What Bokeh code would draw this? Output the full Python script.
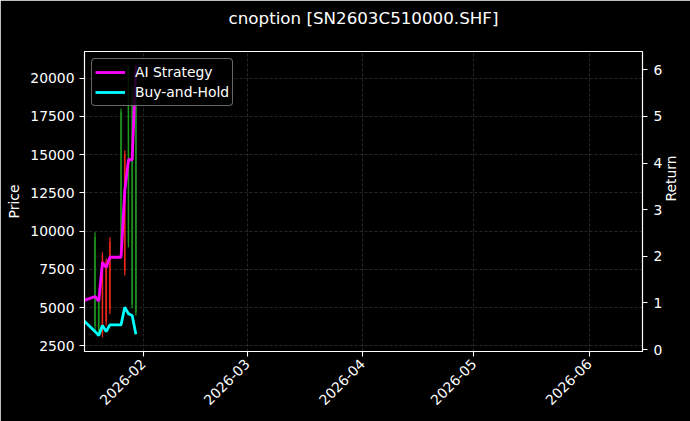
import math
import datetime as dt
import pandas as pd
from bokeh.plotting import figure
from bokeh.models import (Range1d, LinearAxis, DatetimeTickFormatter, MonthsTicker,
                          ColumnDataSource, Legend, LegendItem, FixedTicker)
from bokeh.embed import file_html
from bokeh.resources import INLINE

# ---- data ----
dates = ["2026-01-16", "2026-01-19", "2026-01-20", "2026-01-21", "2026-01-22", "2026-01-23",
         "2026-01-26", "2026-01-27", "2026-01-28", "2026-01-29", "2026-01-30"]
open_ = [10600, 3800, 3400, 8400, 8000, 9300, 8500, 15000, 9200, 5200, 4700]
high = [17300, 9930, 5590, 8620, 8210, 9600, 18020, 15270, 20850, 19500, 19000]
low = [10400, 3500, 3170, 3060, 3830, 4590, 8270, 7100, 8930, 4940, 4480]
close = [17100, 9600, 5400, 3300, 4100, 4900, 17800, 7400, 20500, 19000, 18700]
ai_strategy = [1.05, 1.14, 1.04, 1.87, 1.76, 1.98, 1.98, 3.40, 4.07, 4.07, 6.10]
buy_and_hold = [0.62, 0.39, 0.30, 0.52, 0.39, 0.53, 0.53, 0.91, 0.77, 0.73, 0.33]
price_ticks = [2500, 5000, 7500, 10000, 12500, 15000, 17500, 20000]
return_ticks = [0, 1, 2, 3, 4, 5, 6]
title_text = "cnoption [SN2603C510000.SHF]"

FONT = "DejaVu Sans"
GREEN = "#1f9a1f"
RED = "#f02a1a"

x = pd.to_datetime(dates)
colors = [GREEN if c >= o else RED for o, c in zip(open_, close)]
src = ColumnDataSource(dict(x=x, open=open_, high=high, low=low, close=close,
                            top=[max(o, c) for o, c in zip(open_, close)],
                            bottom=[min(o, c) for o, c in zip(open_, close)],
                            color=colors, ai=ai_strategy, bh=buy_and_hold))

X0, X1 = dt.datetime(2026, 1, 16, 4), dt.datetime(2026, 6, 15, 9)
Y0, Y1 = 2130, 21745
p = figure(width=690, height=421, x_axis_type="datetime",
           x_range=Range1d(X0, X1), y_range=Range1d(Y0, Y1),
           output_backend="svg", toolbar_location=None,
           background_fill_color="black", border_fill_color="black",
           min_border_left=84, min_border_right=48, min_border_top=51, min_border_bottom=70)

p.outline_line_color = "white"
p.outline_line_width = 1.1

p.extra_y_ranges = {"ret": Range1d(-0.04, 6.39)}
raxis = LinearAxis(y_range_name="ret", axis_label="Return")
p.add_layout(raxis, "right")

# candles
p.segment(x0="x", y0="low", x1="x", y1="high", color="color", line_width=1.2, source=src)
p.vbar(x="x", width=0.3 * 86400000, top="top", bottom="bottom", fill_color="color",
       line_color="color", line_width=0.3, source=src)

# return lines
l1 = p.line("x", "ai", source=src, y_range_name="ret", line_color="#ff00ff", line_width=2.8)
l2 = p.line("x", "bh", source=src, y_range_name="ret", line_color="#00ffff", line_width=2.8)

# axes styling
p.xaxis.ticker = MonthsTicker(months=list(range(1, 13)))
p.xaxis.formatter = DatetimeTickFormatter(months="%Y-%m", days="%Y-%m", years="%Y-%m")
p.xaxis.major_label_orientation = math.pi / 4
p.yaxis[0].ticker = FixedTicker(ticks=price_ticks)
p.yaxis[0].axis_label = "Price"
raxis.ticker = FixedTicker(ticks=return_ticks)

for ax in [p.xaxis[0], p.yaxis[0], raxis]:
    ax.axis_line_color = "white"
    ax.axis_line_width = 1.1
    ax.major_tick_line_color = "white"
    ax.major_tick_line_width = 1.1
    ax.major_tick_out = 5
    ax.major_tick_in = 0
    ax.minor_tick_line_color = None
    ax.major_label_text_color = "white"
    ax.major_label_text_font = FONT
    ax.major_label_text_font_size = "13.9px"
    ax.axis_label_text_color = "white"
    ax.axis_label_text_font = FONT
    ax.axis_label_text_font_size = "13.9px"
    ax.axis_label_text_font_style = "normal"
    ax.major_label_standoff = 5
    ax.axis_label_standoff = 5

raxis.major_label_standoff = 6
raxis.axis_label_standoff = 6
try:
    raxis.axis_label_orientation = math.pi / 2
except Exception:
    pass

for g in [p.xgrid[0], p.ygrid[0]]:
    g.grid_line_color = "#808080"
    g.grid_line_alpha = 0.5
    g.grid_line_dash = "3 2"
    g.grid_line_width = 0.6

p.title.text = title_text
p.title.align = "center"
p.title.text_color = "white"
p.title.text_font = FONT
p.title.text_font_size = "16.7px"
p.title.text_font_style = "normal"
p.title.standoff = 0
try:
    p.title.padding = dict(left=0, right=0, top=0, bottom=24)
except Exception:
    pass

legend = Legend(items=[LegendItem(label="AI Strategy", renderers=[l1]),
                       LegendItem(label="Buy-and-Hold", renderers=[l2])],
                location="top_left")
legend.background_fill_color = "black"
legend.background_fill_alpha = 0.85
legend.border_line_color = "#cccccc"
legend.border_line_width = 1
legend.label_text_color = "white"
legend.label_text_font = FONT
legend.label_text_font_size = "13.9px"
legend.glyph_width = 30
legend.glyph_height = 20
legend.label_height = 20
legend.label_standoff = 10
legend.padding = 3
legend.spacing = 0
legend.margin = 7
try:
    legend.border_radius = 4
except Exception:
    pass
p.add_layout(legend)

open("out.html", "w").write(file_html(p, INLINE))
